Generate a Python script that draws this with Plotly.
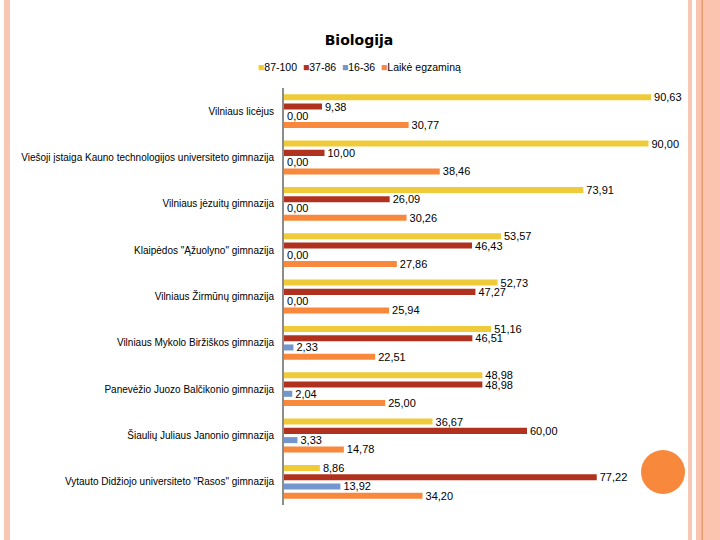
import plotly.graph_objects as go

categories = [
    "Vilniaus licėjus",
    "Viešoji įstaiga Kauno technologijos universiteto gimnazija",
    "Vilniaus jėzuitų gimnazija",
    "Klaipėdos \"Ąžuolyno\" gimnazija",
    "Vilniaus Žirmūnų gimnazija",
    "Vilniaus Mykolo Biržiškos gimnazija",
    "Panevėžio Juozo Balčikonio gimnazija",
    "Šiaulių Juliaus Janonio gimnazija",
    "Vytauto Didžiojo universiteto \"Rasos\" gimnazija",
]
s_87_100 = [90.63, 90.00, 73.91, 53.57, 52.73, 51.16, 48.98, 36.67, 8.86]
s_37_86 = [9.38, 10.00, 26.09, 46.43, 47.27, 46.51, 48.98, 60.00, 77.22]
s_16_36 = [0.00, 0.00, 0.00, 0.00, 0.00, 2.33, 2.04, 3.33, 13.92]
s_laike = [30.77, 38.46, 30.26, 27.86, 25.94, 22.51, 25.00, 14.78, 34.20]

series_names = ["87-100", "37-86", "16-36", "Laikė egzaminą"]
series_values = [s_87_100, s_37_86, s_16_36, s_laike]
series_colors = ["#EFCB3A", "#B0321E", "#7396CC", "#F7883C"]

fig = go.Figure()
for name, vals, col in zip(series_names, series_values, series_colors):
    fig.add_trace(go.Bar(
        y=categories, x=vals, name=name, orientation="h",
        marker=dict(color=col, line=dict(width=0)),
        text=[f"{v:.2f}".replace(".", ",") for v in vals],
        textposition="outside", cliponaxis=False, constraintext="none",
        textfont=dict(family="Liberation Sans", size=11, color="black"),
        showlegend=False,
    ))

L, R, T, B = 284, 689, 88, 505
W, H = R - L, B - T
def px(x):
    return (x - L) / W
def py(y):
    return (B - y) / H

shapes = [
    dict(type="rect", xref="paper", yref="paper", x0=px(4), x1=px(10), y0=py(0), y1=py(540),
         fillcolor="#F8C8B4", line=dict(width=0), layer="below"),
    dict(type="rect", xref="paper", yref="paper", x0=px(688), x1=px(692), y0=py(0), y1=py(540),
         fillcolor="#F8C8B4", line=dict(width=0), layer="below"),
    dict(type="rect", xref="paper", yref="paper", x0=px(696), x1=px(720), y0=py(0), y1=py(540),
         fillcolor="#FBC4AE", line=dict(width=0), layer="below"),
    dict(type="rect", xref="paper", yref="paper", x0=px(701.5), x1=px(703), y0=py(0), y1=py(540),
         fillcolor="#E89A70", line=dict(width=0), layer="below"),
    dict(type="circle", xref="paper", yref="paper", x0=px(641), x1=px(685), y0=py(450), y1=py(494),
         fillcolor="#F7883C", line=dict(width=0)),
]

legend_text = "  ".join(
    f"<span style='color:{c}'>■</span>{n}" for n, c in zip(series_names, series_colors)
)
annotations = [
    dict(text=legend_text, xref="paper", yref="paper", x=px(359), y=py(67),
         xanchor="center", yanchor="middle", showarrow=False,
         font=dict(family="Liberation Sans", size=10.5, color="black")),
]

fig.update_layout(
    width=720, height=540,
    margin=dict(l=L, r=720 - R, t=T, b=540 - B),
    paper_bgcolor="white", plot_bgcolor="white",
    barmode="group", bargap=0.2, bargroupgap=0.35,
    title=dict(text="<b>Biologija</b>", x=359 / 720, xanchor="center", y=1 - 40 / 540, yanchor="middle",
               font=dict(family="DejaVu Sans", size=14, color="black")),
    xaxis=dict(range=[0, 100], showgrid=False, zeroline=False, showticklabels=False, ticks="",
               showline=False, fixedrange=True),
    yaxis=dict(autorange="reversed", showgrid=False, showline=True, linecolor="#8C8C8C", linewidth=2,
               ticks="", ticklabelstandoff=6,
               tickfont=dict(family="Liberation Sans", size=10, color="black")),
    shapes=shapes,
    annotations=annotations,
    showlegend=False,
)

fig.write_html("out.html", config={"displayModeBar": False},
               post_script="document.body.style.margin='0';document.body.style.overflow='hidden';")
